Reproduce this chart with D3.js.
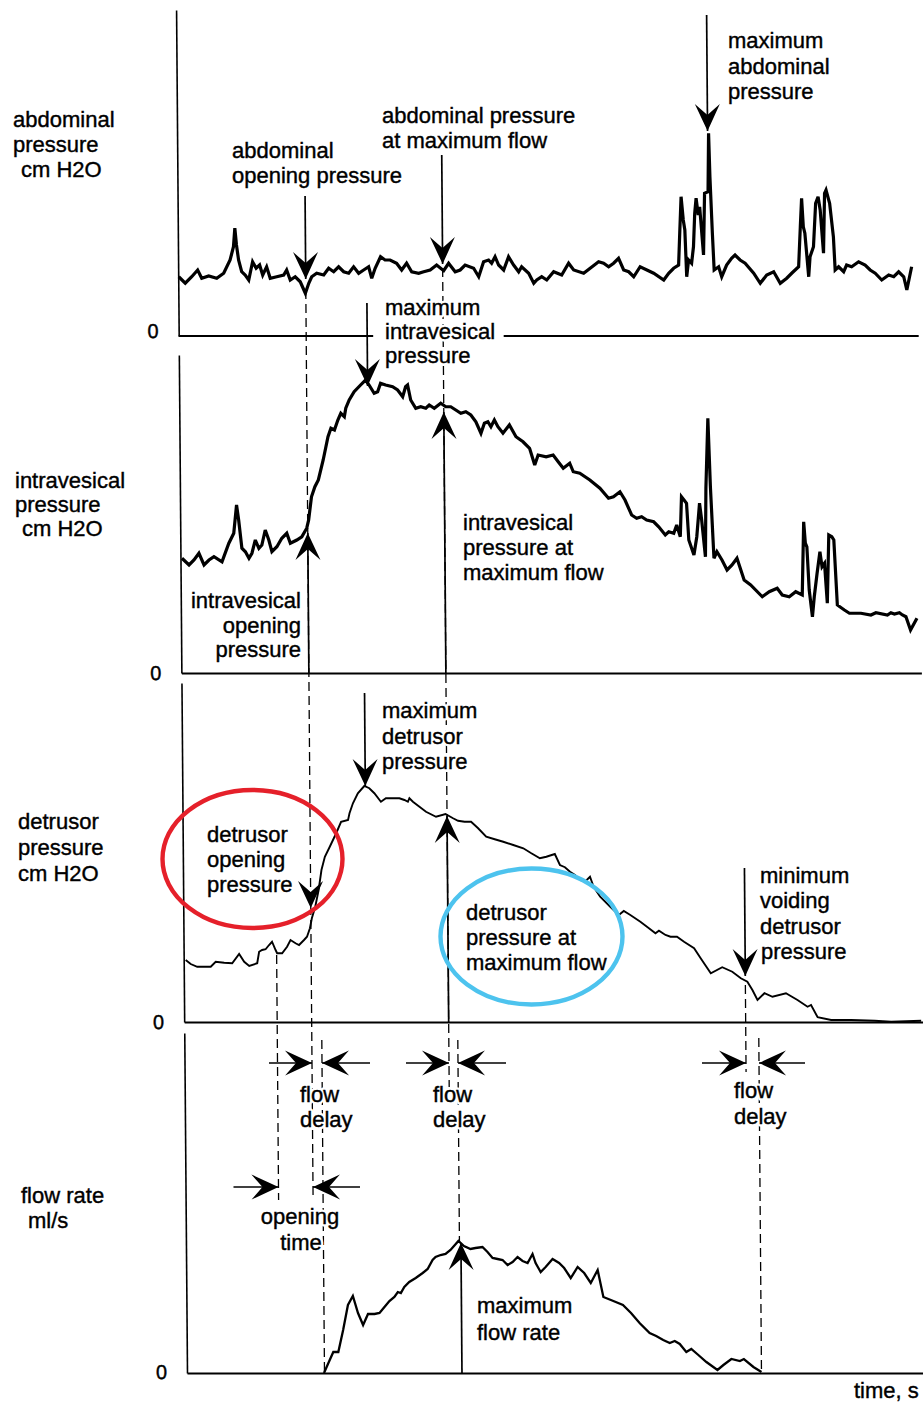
<!DOCTYPE html>
<html><head><meta charset="utf-8">
<script src="https://cdn.jsdelivr.net/npm/d3@7"></script>
<style>
body{margin:0;background:#fff;}
svg text{font-family:"Liberation Sans",Arial,Helvetica,sans-serif;font-size:22px;}
</style></head><body>
<svg id="chart" width="923" height="1403"></svg>
<script>
// ---------------- DATA (time in s, pressure in cm H2O, flow in ml/s) ----------------
const abdominalPressure = [[0.1,23.7],[1.4,21.1],[2.7,23.7],[3.9,26.4],[4.7,23.1],[6.1,24.0],[7.7,23.1],[9.1,25.1],[10.4,30.4],[11.1,35.7],[11.4,43.1],[11.7,36.4],[12.1,30.4],[12.7,25.7],[13.4,24.4],[14.1,22.4],[14.9,29.7],[15.6,27.1],[16.3,28.4],[16.9,24.4],[17.7,27.7],[18.4,23.1],[19.7,23.7],[21.1,24.4],[21.7,26.4],[22.4,22.4],[23.4,23.7],[24.4,21.7],[25.4,17.1],[26.1,21.1],[26.7,23.7],[27.7,25.1],[29.1,24.4],[30.1,27.1],[31.1,25.7],[32.1,27.7],[33.1,25.7],[34.1,25.1],[35.1,27.7],[36.1,25.1],[37.1,26.4],[38.1,27.7],[38.7,23.1],[39.4,27.1],[40.5,31.7],[41.4,30.4],[42.4,30.4],[43.7,29.1],[44.7,26.4],[45.7,29.1],[46.7,25.7],[48.1,25.1],[49.1,25.7],[50.4,26.4],[51.7,28.4],[53.1,26.1],[54.1,29.1],[55.4,25.7],[56.4,26.4],[57.4,28.4],[59.1,27.1],[60.1,23.7],[61.1,29.7],[62.1,30.4],[62.7,29.1],[63.4,31.7],[64.1,28.4],[65.1,26.4],[66.1,31.7],[67.1,28.4],[68.1,25.7],[68.7,27.7],[70.1,25.1],[71.1,21.1],[71.7,22.4],[72.7,23.7],[73.7,22.4],[75.1,25.7],[76.7,24.4],[78.1,29.1],[79.1,26.4],[81.1,25.1],[82.4,27.1],[84.1,29.7],[85.1,29.1],[86.1,27.7],[87.1,29.1],[88.1,31.1],[89.1,26.4],[90.1,25.7],[91.1,23.7],[92.4,27.7],[95.1,25.1],[97.1,22.4],[98.1,25.1],[99.1,27.1],[100.1,28.4],[100.4,42.4],[100.7,55.7],[101.1,46.4],[101.4,42.4],[101.7,23.7],[102.1,30.4],[102.7,29.1],[103.1,35.7],[103.4,49.1],[103.7,55.1],[104.1,48.4],[104.4,51.7],[105.1,32.4],[105.4,57.1],[106.1,57.7],[106.3,81.1],[106.5,63.7],[106.9,41.1],[107.2,26.4],[108.1,27.7],[108.7,23.7],[109.7,28.4],[110.7,31.1],[111.4,32.4],[112.4,30.4],[113.4,29.1],[115.1,25.1],[116.4,21.1],[117.7,24.4],[119.1,25.7],[120.4,21.1],[121.7,23.1],[122.7,25.1],[124.1,27.7],[124.5,43.7],[124.8,55.1],[125.1,43.7],[125.4,41.1],[126.1,23.7],[126.4,31.7],[127.1,35.7],[127.6,53.1],[128.1,55.7],[128.5,50.4],[129.1,33.1],[129.4,57.1],[129.7,58.4],[130.4,53.1],[131.1,39.7],[131.4,26.4],[132.1,27.7],[133.1,25.7],[133.7,28.4],[134.7,27.7],[136.1,29.7],[137.4,28.4],[138.4,26.4],[139.4,25.1],[140.7,22.4],[142.1,24.4],[143.1,23.7],[144.1,25.7],[145.1,23.7],[145.7,18.4],[146.7,27.7]];

const intravesicalPressure = [[0.3,45.9],[1.7,43.2],[2.7,45.2],[3.7,47.9],[4.7,43.2],[5.7,45.2],[6.7,46.5],[8.3,44.5],[9.7,51.9],[10.7,55.9],[11.3,67.2],[11.7,61.2],[12.3,49.9],[13.0,48.5],[13.7,45.9],[14.3,47.9],[15.0,53.2],[15.7,49.9],[16.3,51.2],[17.0,57.2],[17.7,53.2],[18.3,48.5],[19.3,50.5],[20.3,53.9],[21.3,55.9],[22.0,51.9],[23.3,53.2],[24.3,54.5],[25.3,57.9],[25.7,61.2],[26.3,70.5],[27.0,74.5],[27.7,77.2],[28.7,85.2],[29.7,94.5],[30.3,97.9],[31.0,97.2],[31.7,101.2],[32.3,103.9],[33.0,102.5],[33.3,105.9],[34.0,109.2],[35.0,112.5],[36.3,115.2],[37.3,117.2],[38.0,115.2],[39.0,111.9],[39.7,112.5],[40.3,115.9],[41.3,115.2],[42.7,114.5],[43.7,113.2],[44.7,110.5],[45.3,114.5],[45.7,115.2],[46.3,109.2],[47.3,105.9],[48.3,106.5],[49.3,105.9],[50.0,107.2],[51.0,105.9],[52.3,107.9],[53.3,106.5],[54.3,106.5],[55.3,105.2],[56.3,103.9],[57.3,104.5],[58.3,103.2],[59.3,100.5],[60.3,95.9],[61.0,99.9],[61.7,100.5],[62.3,98.5],[63.0,101.2],[63.7,98.5],[64.7,95.9],[66.0,99.2],[67.3,94.5],[68.7,92.5],[70.0,89.9],[71.0,83.2],[71.7,87.2],[73.3,86.5],[74.7,87.2],[75.7,84.5],[76.7,81.9],[78.0,83.9],[78.7,80.5],[80.0,79.9],[82.0,77.2],[84.0,73.9],[85.7,69.9],[86.7,70.5],[88.0,72.5],[89.0,69.2],[90.3,63.2],[91.3,61.9],[92.3,62.5],[93.3,61.2],[94.7,60.5],[95.7,58.5],[97.0,55.2],[97.7,56.5],[98.7,55.9],[99.3,59.2],[100.0,54.5],[100.3,70.5],[100.8,69.2],[101.3,67.9],[101.7,53.2],[102.7,47.2],[103.3,54.5],[103.9,67.9],[104.3,61.2],[105.0,46.5],[105.2,73.9],[105.7,101.9],[106.1,74.5],[106.7,45.9],[107.3,48.5],[108.3,45.2],[109.3,41.2],[110.3,43.2],[111.3,45.9],[112.7,37.2],[114.0,35.2],[116.3,30.5],[117.7,32.5],[119.3,33.9],[120.3,31.2],[121.7,30.5],[123.0,32.5],[124.3,31.2],[124.7,60.5],[125.0,51.9],[125.3,50.5],[125.7,33.2],[126.3,22.5],[126.7,30.5],[127.3,39.9],[127.9,48.5],[128.3,42.5],[128.8,43.9],[129.3,27.9],[129.7,55.2],[130.3,54.5],[130.7,53.2],[131.3,27.2],[132.7,25.2],[133.7,23.9],[136.0,23.9],[138.0,23.2],[139.0,24.1],[141.3,23.2],[142.0,24.1],[142.7,23.6],[143.7,24.1],[144.3,23.2],[145.0,22.5],[145.9,17.2],[147.2,21.9]];

const detrusorPressure = [[0.4,24.8],[1.4,23.2],[2.7,22.1],[5.4,22.1],[6.4,24.1],[8.1,23.7],[9.7,23.5],[11.1,27.2],[12.1,24.1],[13.1,22.4],[14.7,23.5],[15.1,28.1],[15.7,28.8],[16.4,29.1],[17.1,30.8],[17.7,32.1],[18.4,28.8],[18.7,27.5],[19.7,27.5],[20.7,30.1],[21.4,32.8],[22.4,31.5],[23.1,30.8],[24.1,32.8],[24.7,34.1],[25.3,37.5],[25.7,41.5],[26.4,46.1],[27.1,52.8],[27.7,60.8],[28.4,66.1],[29.4,70.1],[30.7,75.5],[31.7,80.1],[33.1,80.8],[33.4,83.5],[34.1,87.5],[35.1,91.5],[36.4,94.4],[37.4,93.5],[38.4,91.5],[39.7,88.1],[40.7,89.5],[42.1,89.5],[43.4,89.5],[44.4,88.8],[45.1,88.1],[45.4,89.5],[46.1,88.1],[47.4,86.1],[48.7,84.1],[50.7,82.1],[52.6,83.2],[54.1,81.5],[55.1,80.5],[56.4,80.1],[57.7,80.1],[59.1,77.5],[60.7,74.1],[62.4,73.1],[64.1,72.1],[66.1,70.8],[68.1,69.5],[69.7,67.5],[71.4,65.5],[72.7,66.1],[74.4,67.2],[75.4,62.8],[76.4,61.9],[77.4,60.1],[78.4,58.8],[79.4,56.8],[80.4,56.1],[81.4,58.1],[82.1,54.1],[83.4,50.1],[85.4,46.1],[87.1,42.8],[88.1,44.4],[89.4,42.8],[91.4,40.1],[93.1,37.5],[94.4,35.5],[95.1,36.5],[96.4,34.8],[97.4,34.1],[98.7,34.1],[100.1,32.1],[102.1,29.5],[103.4,25.5],[105.4,19.5],[107.7,21.9],[109.7,20.1],[111.4,17.5],[112.7,16.1],[113.7,12.8],[114.7,8.8],[116.1,11.5],[117.7,10.1],[120.4,11.5],[122.7,8.8],[124.7,6.1],[125.4,6.8],[126.7,1.9],[129.4,0.8],[133.4,0.8],[138.1,0.5],[141.4,0.1],[147.4,0.5]];

const flowRate = [[27.4,0],[28.3,1.0],[29.3,2.1],[30.3,2.1],[31.3,4.3],[32.3,6.8],[33.3,7.7],[34.3,6.0],[35.3,4.8],[36.3,5.9],[37.6,5.9],[38.6,6.0],[39.6,6.6],[40.6,7.2],[41.6,7.6],[42.3,8.1],[42.9,8.0],[43.6,8.6],[44.6,9.1],[45.9,9.5],[47.3,10.0],[48.3,10.4],[49.3,11.3],[49.9,11.6],[50.9,11.8],[51.9,11.9],[52.9,12.3],[54.5,13.2],[55.6,12.7],[56.9,12.4],[57.9,12.5],[59.3,12.6],[60.3,12.1],[61.3,11.5],[62.3,11.4],[63.3,11.3],[64.3,10.8],[65.3,11.1],[66.3,11.6],[67.3,11.2],[68.3,11.0],[69.3,11.9],[69.9,11.0],[70.9,10.1],[71.9,10.6],[73.3,11.4],[74.6,11.0],[75.6,10.5],[76.9,9.5],[78.3,10.6],[79.6,10.0],[80.9,9.0],[82.3,10.3],[83.4,7.6],[84.9,7.3],[87.3,6.8],[88.9,6.0],[90.6,5.0],[92.6,4.0],[93.9,3.7],[95.3,3.3],[96.6,3.0],[97.6,3.2],[98.6,2.9],[99.9,2.1],[100.9,2.4],[102.3,1.8],[103.9,1.1],[106.1,0.3],[107.3,0.8],[108.9,1.4],[110.6,1.2],[111.4,1.4],[113.3,0.6],[114.9,0.1]];

const yTickLabels = ["0"];

// event times (s)
const tOpeningTimeStart = 18.6;
const tOpening = 25.5;
const tFlowStart = 27.5;
const tMaxDetrusor = 36.6;
const tMaxIntravesical = 37.7;
const tPressureAtMaxFlow = 52.9;
const tMaxFlow = 54.7;
const tMaxFlowArrow = 55.0;
const tMaxAbdominal = 106.1;
const tMinVoiding = 112.3;
const tFlowEnd = 114.9;

// ---------------- LAYOUT ----------------
const svg = d3.select("#chart");
const SKEW_DEG = Math.atan(0.008) * 180 / Math.PI;
const g = svg.append("g").attr("transform", `skewX(${SKEW_DEG})`);

const x = d3.scaleLinear().domain([0, 148]).range([176, 916]);

const panels = [
  {data: abdominalPressure, base: 336, top: 10, max: 130.4, sw: 3.2, zeroDy: "0.05em", baseW: 2},
  {data: intravesicalPressure, base: 673, top: 355, max: 127.2, sw: 3.2, zeroDy: "0.32em", baseW: 2.2},
  {data: detrusorPressure, base: 1022, top: 683, max: 135.6, sw: 1.9, zeroDy: "0.32em", baseW: 1.8},
  {data: flowRate, base: 1373, top: 1033, max: 34, sw: 2.3, zeroDy: "0.25em", baseW: 1.8}
];

panels.forEach((p, i) => {
  p.y = d3.scaleLinear().domain([0, p.max]).range([p.base, p.top]);
  const ax = g.append("g").attr("transform", `translate(${x(0)},0)`)
    .call(d3.axisLeft(p.y).tickValues([0]).tickFormat((d, k) => yTickLabels[k]).tickSize(0).tickSizeOuter(0).tickPadding(20));
  ax.select(".domain").attr("stroke", "#000").attr("stroke-width", 1.6);
  ax.selectAll("text").style("font-size", "20px").style("font-family", "'Liberation Sans', Arial, sans-serif")
    .attr("dy", p.zeroDy).attr("fill", "#000").attr("stroke", "#000").attr("stroke-width", 0.4);
  if (i === 0) {
    [[0, 38.9], [65, 148]].forEach(s => {
      g.append("line").attr("x1", x(s[0])).attr("x2", x(s[1])).attr("y1", p.base).attr("y2", p.base)
        .attr("stroke", "#000").attr("stroke-width", p.baseW);
    });
  } else {
    const bx = g.append("g").attr("transform", `translate(0,${p.base})`)
      .call(d3.axisBottom(x).tickValues([]).tickSizeOuter(0));
    bx.select(".domain").attr("stroke", "#000").attr("stroke-width", p.baseW);
  }
  const line = d3.line().x(d => x(d[0])).y(d => p.y(d[1]));
  g.append("path").datum(p.data).attr("d", line)
    .attr("fill", "none").attr("stroke", "#000").attr("stroke-width", p.sw)
    .attr("stroke-linejoin", "miter").attr("stroke-miterlimit", 3);
});

// ---------------- ANNOTATIONS ----------------
function dashed(t, y1, y2) {
  g.append("line").attr("x1", x(t)).attr("x2", x(t)).attr("y1", y1).attr("y2", y2)
    .attr("stroke", "#000").attr("stroke-width", 1.3).attr("stroke-dasharray", "9,5");
}
function head(tx, ty, dir) {
  const L = 27, W = 12.5, N = 16;
  const base = [[0, 0], [-W, -L], [0, -N], [W, -L]];
  const rot = {down: (a, b) => [a, b], up: (a, b) => [a, -b], right: (a, b) => [b, a], left: (a, b) => [-b, a]}[dir];
  const pts = base.map(([a, b]) => { const r = rot(a, b); return [tx + r[0], ty + r[1]]; });
  g.append("path").attr("d", "M" + pts.map(q => q.join(",")).join("L") + "Z").attr("fill", "#000");
}
function vArrow(t, yFrom, yTip, dir) {
  g.append("line").attr("x1", x(t)).attr("x2", x(t)).attr("y1", yFrom).attr("y2", yTip)
    .attr("stroke", "#000").attr("stroke-width", 1.7);
  head(x(t), yTip, dir);
}
function hArrow(t, y, len, dir) {
  const tip = x(t);
  const tail = dir === "right" ? tip - len : tip + len;
  g.append("line").attr("x1", tail).attr("x2", tip).attr("y1", y).attr("y2", y)
    .attr("stroke", "#000").attr("stroke-width", 1.7);
  head(tip, y, dir);
}

dashed(tOpening, 290, 1200);
dashed(tPressureAtMaxFlow, 268, 1087);
dashed(tOpeningTimeStart, 955, 1200);
dashed(tFlowStart, 1040, 1373);
dashed(tMaxFlow, 1040, 1243);
dashed(tMinVoiding, 985, 1072);
dashed(tFlowEnd, 1038, 1373);

vArrow(tMaxAbdominal, 15, 131, "down");
vArrow(tPressureAtMaxFlow, 155, 264, "down");
vArrow(tOpening, 196, 279, "down");
vArrow(tMaxIntravesical, 303, 386, "down");
vArrow(tOpening, 673, 533, "up");
vArrow(tPressureAtMaxFlow, 673, 412, "up");
vArrow(tMaxDetrusor, 693, 786, "down");
head(x(tOpening), 908, "down");
vArrow(tPressureAtMaxFlow, 1022, 816, "up");
vArrow(tMinVoiding, 868, 976, "down");
vArrow(tMaxFlowArrow, 1373, 1243, "up");

hArrow(tOpening, 1063, 43, "right");
hArrow(tFlowStart, 1063, 48, "left");
hArrow(tPressureAtMaxFlow, 1063, 43, "right");
hArrow(tMaxFlow, 1063, 48, "left");
hArrow(tMinVoiding, 1063, 44, "right");
hArrow(tFlowEnd, 1063, 46, "left");
hArrow(tOpeningTimeStart, 1187, 45, "right");
hArrow(tOpening, 1187, 47, "left");

svg.append("ellipse").attr("cx", 252.5).attr("cy", 859).attr("rx", 90).attr("ry", 69)
  .attr("fill", "none").attr("stroke", "#e5202a").attr("stroke-width", 4.4);
svg.append("ellipse").attr("cx", 531.5).attr("cy", 936.5).attr("rx", 91).attr("ry", 68)
  .attr("fill", "none").attr("stroke", "#4dc3ee").attr("stroke-width", 4.4);

const labels = [
  ["abdominal",13,127],["pressure",13,152],["cm H2O",21,177],
  ["intravesical",15,488],["pressure",15,512],["cm H2O",22,536],
  ["detrusor",18,829],["pressure",18,855],["cm H2O",18,881],
  ["flow rate",21,1203],["ml/s",28,1228],
  ["maximum",728,48],["abdominal",728,73.5],["pressure",728,99],
  ["abdominal pressure",382,123],["at maximum flow",382,148],
  ["abdominal",232,158],["opening pressure",232,183],
  ["maximum",385,315],["intravesical",385,339],["pressure",385,363],
  ["intravesical",463,530],["pressure at",463,555],["maximum flow",463,580],
  ["intravesical",301,608,"end"],["opening",301,633,"end"],["pressure",301,657,"end"],
  ["maximum",382,718],["detrusor",382,744],["pressure",382,769],
  ["detrusor",207,842],["opening",207,867],["pressure",207,892],
  ["minimum",760,883],["voiding",760,908],["detrusor",760,934],["pressure",761,959],
  ["detrusor",466,920],["pressure at",466,945],["maximum flow",466,970],
  ["flow",300,1102],["delay",300,1127],
  ["flow",433,1102],["delay",433,1127],
  ["flow",734,1098],["delay",734,1124],
  ["opening",300,1224,"middle"],["time",301,1250,"middle"],
  ["maximum",477,1313],["flow rate",477,1340],
  ["time, s",854,1398]
];
// white halo (knocks out guide lines under the glyphs), then the ink
svg.selectAll("text.halo").data(labels).enter().append("text").attr("class", "halo")
  .attr("x", d => d[1]).attr("y", d => d[2]).attr("text-anchor", d => d[3] || "start")
  .attr("fill", "#fff").attr("stroke", "#fff").attr("stroke-width", 5).attr("stroke-linejoin", "round")
  .text(d => d[0]);
svg.selectAll("text.lbl").data(labels).enter().append("text").attr("class", "lbl")
  .attr("x", d => d[1]).attr("y", d => d[2]).attr("text-anchor", d => d[3] || "start")
  .attr("fill", "#000").attr("stroke", "#000").attr("stroke-width", 0.4)
  .text(d => d[0]);
</script>
</body></html>
